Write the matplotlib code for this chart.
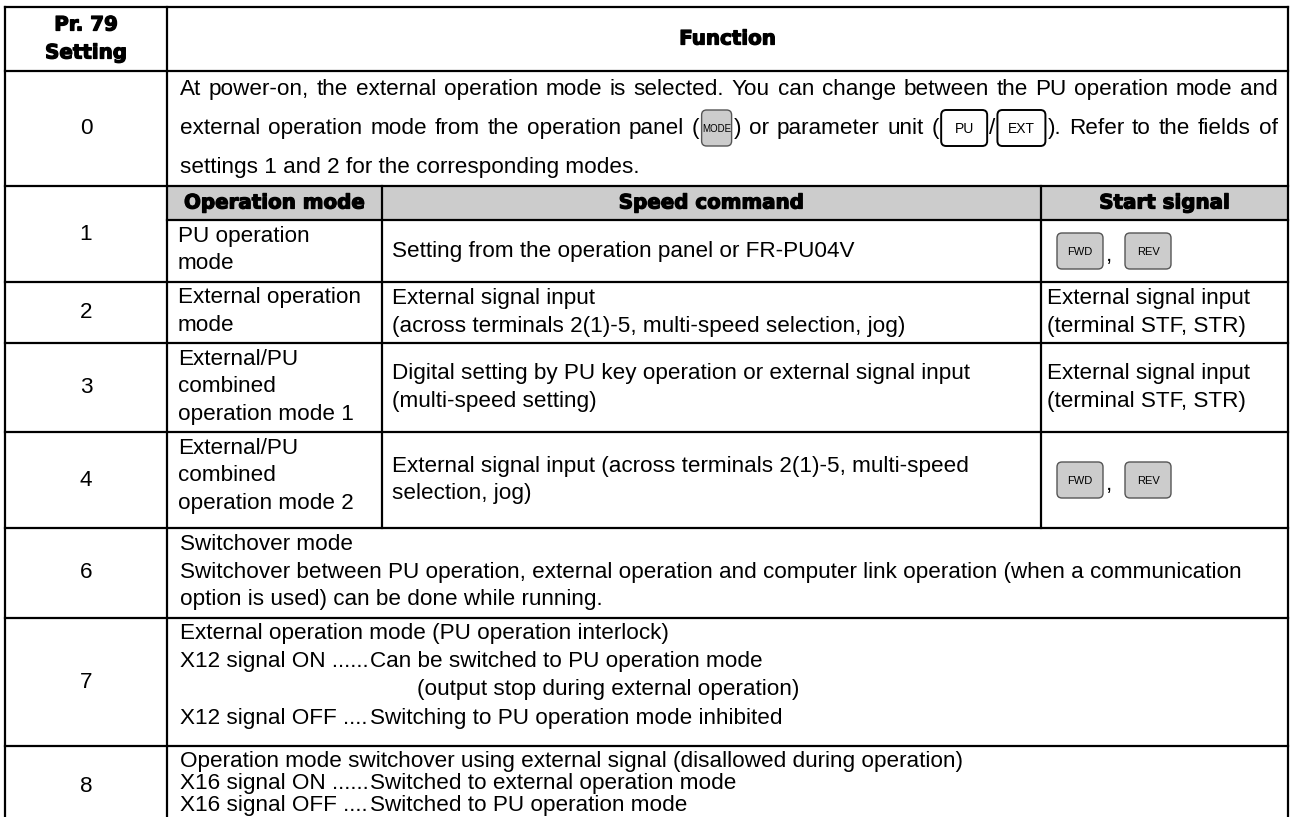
import re
import matplotlib.pyplot as plt
import matplotlib.patheffects as pe
from matplotlib.patches import FancyBboxPatch, Rectangle

# ---- table content -------------------------------------------------------
header_left = ["Pr. 79", "Setting"]
header_right = "Function"
sub_headers = ["Operation mode", "Speed command", "Start signal"]

row0_line1 = "At power-on, the external operation mode is selected. You can change between the PU operation mode and"
row0_line2 = "external operation mode from the operation panel ([MODE]) or parameter unit ([PU]/[EXT]). Refer to the fields of"
row0_line3 = "settings 1 and 2 for the corresponding modes."

sub_settings = ["1", "2", "3", "4"]
sub_modes = [["PU operation", "mode"],
             ["External operation", "mode"],
             ["External/PU", "combined", "operation mode 1"],
             ["External/PU", "combined", "operation mode 2"]]
sub_speed = [["Setting from the operation panel or FR-PU04V"],
             ["External signal input", "(across terminals 2(1)-5, multi-speed selection, jog)"],
             ["Digital setting by PU key operation or external signal input", "(multi-speed setting)"],
             ["External signal input (across terminals 2(1)-5, multi-speed", "selection, jog)"]]
sub_start = ["keys",
             ["External signal input", "(terminal STF, STR)"],
             ["External signal input", "(terminal STF, STR)"],
             "keys"]
start_keys = ["FWD", "REV"]

row6_lines = ["Switchover mode",
              "Switchover between PU operation, external operation and computer link operation (when a communication",
              "option is used) can be done while running."]
row7_title = "External operation mode (PU operation interlock)"
row7_items = [("X12 signal ON ......", "Can be switched to PU operation mode"),
              ("X12 signal OFF ....", "Switching to PU operation mode inhibited")]
row7_note = "(output stop during external operation)"
row8_title = "Operation mode switchover using external signal (disallowed during operation)"
row8_items = [("X16 signal ON ......", "Switched to external operation mode"),
              ("X16 signal OFF ....", "Switched to PU operation mode")]

# ---- layout (pixels, y downwards) ----------------------------------------
W, H = 1291, 817
xL, xC, xR = 5, 167, 1288
xS1, xS2 = 382, 1041
y_rows = [7, 71, 186, 220, 282, 343, 432, 528, 618, 746]
FS = 16.2
HFS = 14.3
BODY = ['Liberation Sans', 'DejaVu Sans']
BOLD = ['DejaVu Sans']
LW = 1.6
PITCH = 27.5
x0 = 180
x_just = 1278
key_w = {"MODE": 30, "PU": 46, "EXT": 48}

fig = plt.figure(figsize=(W / 100, H / 100), dpi=100)
ax = fig.add_axes([0, 0, 1, 1])
ax.set_xlim(0, W)
ax.set_ylim(H, 0)
ax.axis('off')
renderer = fig.canvas.get_renderer()
heavy = [pe.withStroke(linewidth=0.9, foreground='black')]


def txt(x, y, s, ha='left', fs=FS, bold=False, **kw):
    if bold:
        return ax.text(x, y, s, ha=ha, va='center', fontsize=HFS,
                       family=BOLD, fontweight='bold', color='black',
                       path_effects=heavy, **kw)
    return ax.text(x, y, s, ha=ha, va='center', fontsize=fs, family=BODY,
                   color='black', **kw)


def right_edge(t):
    bb = t.get_window_extent(renderer)
    return ax.transData.inverted().transform((bb.x1, 0))[0]


def width(s):
    t = txt(0, 0, s)
    bb = t.get_window_extent(renderer)
    inv = ax.transData.inverted()
    w = inv.transform((bb.x1, 0))[0] - inv.transform((bb.x0, 0))[0]
    t.remove()
    return w


def key(x, yc, label, w, gray=True, fs=8, h=36):
    box = FancyBboxPatch((x + 3, yc - h / 2 + 3), w - 6, h - 6,
                         boxstyle="round,pad=3,rounding_size=5",
                         fc='#cccccc' if gray else 'white',
                         ec='#555555' if gray else 'black', lw=1.0 if gray else 1.4)
    ax.add_patch(box)
    ax.text(x + w / 2, yc + 1, label, ha='center', va='center', fontsize=fs, family=BODY)
    return x + w


def pieces(word):
    return [p for p in re.split(r'(\[[A-Z]+\])', word) if p]


def piece_w(p):
    if p.startswith('['):
        return key_w[p[1:-1]] + 4
    return width(p)


def justified(y, line):
    words = line.split(' ')
    total = sum(piece_w(p) for w in words for p in pieces(w))
    gap = (x_just - x0 - total) / (len(words) - 1)
    x = x0
    for w in words:
        for p in pieces(w):
            if p.startswith('['):
                lab = p[1:-1]
                if lab == "MODE":
                    x = key(x + 2, y, lab, key_w[lab], gray=True, fs=7) + 2
                else:
                    x = key(x + 2, y, lab, key_w[lab], gray=False, fs=10) + 2
            else:
                t = txt(x, y, p)
                x = right_edge(t)
        x += gap


def hline(y, xa=xL, xb=xR):
    ax.plot([xa, xb], [y, y], color='black', lw=LW, solid_capstyle='projecting')


def vline(x, ya, yb=H):
    ax.plot([x, x], [ya, yb], color='black', lw=LW, solid_capstyle='projecting')


# sub header band
ax.add_patch(Rectangle((xC, y_rows[2]), xR - xC, y_rows[3] - y_rows[2], fc='#cccccc', ec='none'))

# grid lines
for i, y in enumerate(y_rows):
    if i == 3:
        hline(y, xC, xR)
    else:
        hline(y)
vline(xL, y_rows[0])
vline(xC, y_rows[0])
vline(xR, y_rows[0])
vline(xS1, y_rows[2], y_rows[7])
vline(xS2, y_rows[2], y_rows[7])

# header
hc = (y_rows[0] + y_rows[1]) / 2
txt((xL + xC) / 2, hc - 14, header_left[0], ha='center', bold=True)
txt((xL + xC) / 2, hc + 14, header_left[1], ha='center', bold=True)
txt((xC + xR) / 2, hc, header_right, ha='center', bold=True)

# setting 0
txt((xL + xC) / 2, (y_rows[1] + y_rows[2]) / 2, "0", ha='center')
justified(89, row0_line1)
justified(128, row0_line2)
txt(x0, 167, row0_line3)

# sub table header
ys = (y_rows[2] + y_rows[3]) / 2
for s, (a, b) in zip(sub_headers, [(xC, xS1), (xS1, xS2), (xS2, xR)]):
    txt((a + b) / 2, ys, s, ha='center', bold=True)

# settings 1-4
for i in range(4):
    top = y_rows[3 + i]
    bot = y_rows[4 + i]
    mid = (top + bot) / 2
    lab_top = y_rows[2] if i == 0 else top
    txt((xL + xC) / 2, (lab_top + bot) / 2, sub_settings[i], ha='center')
    for j, s in enumerate(sub_modes[i]):
        txt(xC + 11, top + 16 + j * PITCH, s)
    lines = sub_speed[i]
    for j, s in enumerate(lines):
        txt(xS1 + 10, mid + (j - (len(lines) - 1) / 2) * PITCH, s)
    if sub_start[i] == "keys":
        xk = key(xS2 + 16, mid, start_keys[0], 46)
        txt(xk + 3, mid + 4, ",")
        key(xk + 22, mid, start_keys[1], 46)
    else:
        lines = sub_start[i]
        for j, s in enumerate(lines):
            txt(xS2 + 6, mid + (j - (len(lines) - 1) / 2) * PITCH, s)

# setting 6
top = y_rows[7]
txt((xL + xC) / 2, (y_rows[7] + y_rows[8]) / 2, "6", ha='center')
for j, s in enumerate(row6_lines):
    txt(x0, top + 17 + j * PITCH, s)

# setting 7
top = y_rows[8]
p7 = 28.5
txt((xL + xC) / 2, (y_rows[8] + y_rows[9]) / 2, "7", ha='center')
txt(x0, top + 15, row7_title)
xd = max(x0 + width(a) for a, _ in row7_items) + 1
ys7 = [top + 15 + p7, top + 15 + 3 * p7]
for (a, b), yy in zip(row7_items, ys7):
    txt(x0, yy, a)
    txt(xd, yy, b)
txt(xd + 47, top + 15 + 2 * p7, row7_note)

# setting 8
top = y_rows[9]
p8 = 22.5
txt((xL + xC) / 2, 786, "8", ha='center')
txt(x0, top + 15, row8_title)
for j, (a, b) in enumerate(row8_items):
    txt(x0, top + 15 + (j + 1) * p8, a)
    txt(xd, top + 15 + (j + 1) * p8, b)

fig.savefig('out.png', dpi=100)
